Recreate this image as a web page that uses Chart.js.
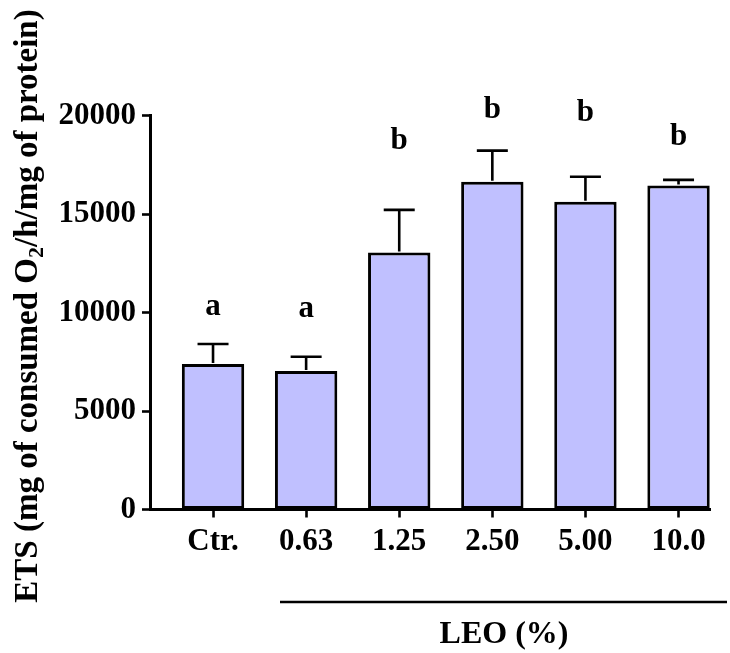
<!DOCTYPE html>
<html>
<head>
<meta charset="utf-8">
<script src="https://cdn.jsdelivr.net/npm/chart.js@4/dist/chart.umd.min.js"></script>
<style>
  html, body { margin: 0; padding: 0; background: #ffffff; }
  canvas { display: block; }
</style>
</head>
<body>
<canvas id="c" width="730" height="653"></canvas>
<script>
// ---- data ----
const categories = ["Ctr.", "0.63", "1.25", "2.50", "5.00", "10.0"];
const etsMean = [7390, 7030, 13050, 16650, 15630, 16450];
const etsSD = [1015, 730, 2165, 1575, 1270, 290];
const groupLetters = ["a", "a", "b", "b", "b", "b"];
const letterLevel = [10300, 10180, 18730, 20290, 20140, 18930];
const yTicks = [0, 5000, 10000, 15000, 20000];
const yTitleMain = "ETS (mg of consumed O";
const yTitleSub = "2";
const yTitleEnd = "/h/mg of protein)";
const groupTitle = "LEO (%)";

const FONT = '"Liberation Serif", "Times New Roman", serif';

const overlay = {
  id: 'overlay',
  afterDatasetsDraw(chart) {
    const ctx = chart.ctx;
    const xs = chart.scales.x, ys = chart.scales.y;
    ctx.save();
    // error bars
    ctx.strokeStyle = '#000';
    ctx.lineWidth = 2.6;
    ctx.lineCap = 'butt';
    etsMean.forEach((m, i) => {
      const x = xs.getPixelForValue(i);
      const y0 = ys.getPixelForValue(m);
      const y1 = ys.getPixelForValue(m + etsSD[i]);
      ctx.beginPath();
      ctx.moveTo(x, y0 - 1);
      ctx.lineTo(x, y1);
      ctx.moveTo(x - 15.5, y1);
      ctx.lineTo(x + 15.5, y1);
      ctx.stroke();
    });
    // letters
    ctx.fillStyle = '#000';
    ctx.font = 'bold 31px ' + FONT;
    ctx.textAlign = 'center';
    ctx.textBaseline = 'middle';
    groupLetters.forEach((t, i) => {
      ctx.fillText(t, xs.getPixelForValue(i), ys.getPixelForValue(letterLevel[i]));
    });
    ctx.restore();
  },
  afterDraw(chart) {
    const ctx = chart.ctx;
    const ca = chart.chartArea;
    ctx.save();
    ctx.fillStyle = '#000';
    ctx.strokeStyle = '#000';
    // group line + title
    ctx.lineWidth = 2.5;
    ctx.beginPath();
    ctx.moveTo(280, ca.bottom + 92.5);
    ctx.lineTo(727, ca.bottom + 92.5);
    ctx.stroke();
    ctx.font = 'bold 32px ' + FONT;
    ctx.textAlign = 'center';
    ctx.textBaseline = 'middle';
    ctx.fillText(groupTitle, 504, ca.bottom + 125);
    // y title with subscript
    const mainFont = 'bold 33px ' + FONT;
    const subFont = 'bold 22px ' + FONT;
    ctx.font = mainFont;
    const w1 = ctx.measureText(yTitleMain).width;
    const w3 = ctx.measureText(yTitleEnd).width;
    ctx.font = subFont;
    const w2 = ctx.measureText(yTitleSub).width;
    const total = w1 + w2 + w3;
    ctx.translate(28, 306);
    ctx.rotate(-Math.PI / 2);
    ctx.textAlign = 'left';
    ctx.textBaseline = 'middle';
    let x = -total / 2;
    ctx.font = mainFont;
    ctx.fillText(yTitleMain, x, 0);
    x += w1;
    ctx.font = subFont;
    ctx.fillText(yTitleSub, x, 9);
    x += w2;
    ctx.font = mainFont;
    ctx.fillText(yTitleEnd, x, 0);
    ctx.restore();
  }
};

new Chart(document.getElementById('c'), {
  type: 'bar',
  data: {
    datasets: [{
      data: etsMean.map((v, i) => ({ x: i, y: v })),
      backgroundColor: 'rgb(192,192,255)',
      borderColor: '#000',
      borderWidth: 3,
      borderSkipped: false,
      barPercentage: 0.67,
      categoryPercentage: 1.0
    }]
  },
  options: {
    responsive: false,
    animation: false,
    devicePixelRatio: 1,
    layout: { padding: { left: 0, right: 20, top: 115.7, bottom: 0 } },
    plugins: { legend: { display: false }, tooltip: { enabled: false } },
    scales: {
      x: {
        type: 'linear',
        min: -0.677,
        max: 5.338,
        offset: false,
        afterFit(s) { s.height = 653 - 509.5; },
        afterBuildTicks(s) { s.ticks = categories.map((c, i) => ({ value: i })); },
        grid: { display: true, drawOnChartArea: false, drawTicks: true, tickLength: 8, tickWidth: 2.6, tickColor: '#000', offset: false },
        border: { display: true, color: '#000', width: 3 },
        ticks: {
          color: '#000',
          font: { family: FONT, size: 31, weight: 'bold' },
          padding: 6,
          maxRotation: 0,
          autoSkip: false,
          callback: (v) => categories[v] ?? ''
        }
      },
      y: {
        min: 0,
        max: 20000,
        afterFit(s) { s.width = 150; },
        afterBuildTicks(s) { s.ticks = yTicks.map(v => ({ value: v })); },
        grid: { display: true, drawOnChartArea: false, drawTicks: true, tickLength: 8, tickWidth: 2.6, tickColor: '#000' },
        border: { display: true, color: '#000', width: 3 },
        ticks: {
          color: '#000',
          font: { family: FONT, size: 31, weight: 'bold' },
          padding: 6,
          callback: (v) => String(v)
        }
      }
    }
  },
  plugins: [overlay]
});
</script>
</body>
</html>
